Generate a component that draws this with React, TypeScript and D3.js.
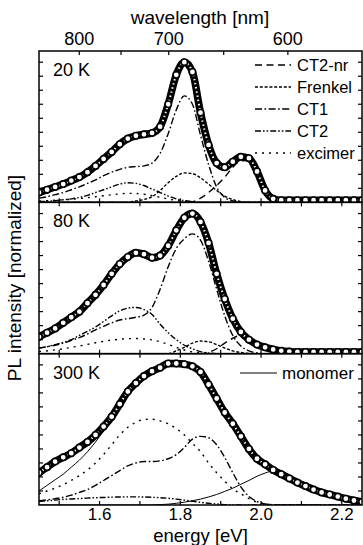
import React from "react";
import * as d3 from "d3";

const W = 363;
const H = 545;

// energy grid (eV) shared by all curves
const energy = d3.range(41).map((i) => 1.45 + i * 0.02);

// 20 K
const pl20K = [0.07, 0.09, 0.11, 0.13, 0.155, 0.18, 0.215, 0.26, 0.31, 0.36, 0.415, 0.455, 0.475, 0.485, 0.495, 0.54, 0.7, 0.91, 1.0, 0.93, 0.64, 0.41, 0.28, 0.25, 0.29, 0.325, 0.315, 0.22, 0.085, 0.025, 0.015, 0.015, 0.015, 0.015, 0.015, 0.015, 0.015, 0.015, 0.015, 0.015, 0.015];
const ct2nr20K = [0, 0, 0, 0, 0, 0, 0, 0, 0, 0, 0, 0, 0, 0, 0, 0, 0, 0, 0, 0.005, 0.03, 0.07, 0.12, 0.18, 0.25, 0.295, 0.3, 0.21, 0.08, 0.015, 0, 0, 0, 0, 0, 0, 0, 0, 0, 0, 0];
const frenkel20K = [0, 0, 0, 0, 0, 0, 0, 0, 0, 0, 0, 0, 0.01, 0.02, 0.04, 0.085, 0.14, 0.185, 0.21, 0.205, 0.175, 0.13, 0.085, 0.045, 0.02, 0.005, 0, 0, 0, 0, 0, 0, 0, 0, 0, 0, 0, 0, 0, 0, 0];
const ct1_20K = [0.03, 0.04, 0.055, 0.07, 0.09, 0.11, 0.135, 0.16, 0.19, 0.215, 0.235, 0.25, 0.255, 0.26, 0.28, 0.35, 0.49, 0.66, 0.76, 0.7, 0.48, 0.27, 0.11, 0.035, 0.01, 0, 0, 0, 0, 0, 0, 0, 0, 0, 0, 0, 0, 0, 0, 0, 0];
const ct2_20K = [0.005, 0.008, 0.012, 0.018, 0.025, 0.035, 0.05, 0.07, 0.09, 0.11, 0.13, 0.14, 0.135, 0.12, 0.095, 0.07, 0.045, 0.025, 0.012, 0.005, 0, 0, 0, 0, 0, 0, 0, 0, 0, 0, 0, 0, 0, 0, 0, 0, 0, 0, 0, 0, 0];
const excimer20K = [0.01, 0.012, 0.015, 0.018, 0.022, 0.027, 0.033, 0.04, 0.047, 0.054, 0.06, 0.064, 0.063, 0.058, 0.048, 0.036, 0.024, 0.014, 0.007, 0.003, 0, 0, 0, 0, 0, 0, 0, 0, 0, 0, 0, 0, 0, 0, 0, 0, 0, 0, 0, 0, 0];

// 80 K
const pl80K = [0.12, 0.15, 0.18, 0.22, 0.26, 0.3, 0.36, 0.42, 0.49, 0.57, 0.64, 0.69, 0.72, 0.71, 0.685, 0.7, 0.77, 0.88, 0.97, 1.0, 0.94, 0.79, 0.57, 0.39, 0.25, 0.155, 0.1, 0.065, 0.045, 0.03, 0.02, 0.015, 0.012, 0.012, 0.012, 0.012, 0.012, 0.012, 0.012, 0.012, 0.012];
const ct2nr80K = [0, 0, 0, 0, 0, 0, 0, 0, 0, 0, 0, 0, 0, 0, 0, 0, 0, 0, 0, 0, 0, 0.01, 0.035, 0.075, 0.11, 0.13, 0.115, 0.08, 0.05, 0.028, 0.014, 0.006, 0.002, 0, 0, 0, 0, 0, 0, 0, 0];
const frenkel80K = [0, 0, 0, 0, 0, 0, 0, 0, 0, 0, 0, 0, 0, 0, 0, 0, 0, 0.02, 0.045, 0.075, 0.09, 0.085, 0.065, 0.04, 0.02, 0.008, 0.002, 0, 0, 0, 0, 0, 0, 0, 0, 0, 0, 0, 0, 0, 0];
const ct1_80K = [0.04, 0.05, 0.06, 0.075, 0.095, 0.115, 0.14, 0.17, 0.195, 0.22, 0.24, 0.25, 0.26, 0.275, 0.33, 0.46, 0.62, 0.75, 0.82, 0.855, 0.81, 0.66, 0.46, 0.27, 0.13, 0.055, 0.02, 0.005, 0, 0, 0, 0, 0, 0, 0, 0, 0, 0, 0, 0, 0];
const ct2_80K = [0.04, 0.05, 0.065, 0.08, 0.1, 0.13, 0.16, 0.19, 0.23, 0.27, 0.305, 0.325, 0.33, 0.315, 0.28, 0.21, 0.15, 0.1, 0.06, 0.035, 0.015, 0.005, 0, 0, 0, 0, 0, 0, 0, 0, 0, 0, 0, 0, 0, 0, 0, 0, 0, 0, 0];
const excimer80K = [0.015, 0.02, 0.027, 0.035, 0.045, 0.055, 0.066, 0.078, 0.088, 0.097, 0.103, 0.107, 0.108, 0.105, 0.098, 0.085, 0.066, 0.045, 0.026, 0.012, 0.005, 0, 0, 0, 0, 0, 0, 0, 0, 0, 0, 0, 0, 0, 0, 0, 0, 0, 0, 0, 0];

// 300 K
const pl300K = [0.23, 0.27, 0.31, 0.34, 0.37, 0.41, 0.45, 0.5, 0.56, 0.63, 0.72, 0.81, 0.87, 0.92, 0.955, 0.98, 1.01, 1.01, 1.005, 0.99, 0.95, 0.86, 0.76, 0.66, 0.58, 0.49, 0.4, 0.33, 0.29, 0.25, 0.22, 0.19, 0.16, 0.135, 0.11, 0.09, 0.075, 0.06, 0.045, 0.032, 0.022];
const fit300K = [0.1, 0.14, 0.18, 0.22, 0.27, 0.32, 0.38, 0.45, 0.53, 0.62, 0.72, 0.81, 0.88, 0.93, 0.965, 0.99, 1.0, 1.005, 1.0, 0.985, 0.945, 0.865, 0.765, 0.66, 0.575, 0.49, 0.41, 0.345, 0.29, 0.25, 0.235, 0.21, 0.178, 0.145, 0.115, 0.09, 0.068, 0.05, 0.036, 0.025, 0.017];
const ct1_300K = [0.03, 0.037, 0.045, 0.055, 0.07, 0.09, 0.11, 0.14, 0.175, 0.21, 0.245, 0.28, 0.3, 0.31, 0.31, 0.315, 0.33, 0.36, 0.41, 0.47, 0.49, 0.48, 0.43, 0.34, 0.23, 0.13, 0.06, 0.025, 0.008, 0.002, 0, 0, 0, 0, 0, 0, 0, 0, 0, 0, 0];
const ct2_300K = [0.025, 0.03, 0.035, 0.04, 0.043, 0.046, 0.049, 0.052, 0.054, 0.056, 0.057, 0.058, 0.058, 0.057, 0.055, 0.052, 0.048, 0.042, 0.035, 0.027, 0.019, 0.012, 0.007, 0.003, 0, 0, 0, 0, 0, 0, 0, 0, 0, 0, 0, 0, 0, 0, 0, 0, 0];
const excimer300K = [0.08, 0.1, 0.12, 0.145, 0.175, 0.21, 0.25, 0.3, 0.36, 0.43, 0.5, 0.555, 0.59, 0.61, 0.612, 0.6, 0.58, 0.545, 0.5, 0.44, 0.38, 0.3, 0.23, 0.17, 0.115, 0.08, 0.045, 0.02, 0.008, 0.002, 0, 0, 0, 0, 0, 0, 0, 0, 0, 0, 0];
const monomer300K = [0, 0, 0, 0, 0, 0, 0, 0, 0, 0, 0, 0, 0, 0, 0, 0.003, 0.006, 0.012, 0.02, 0.03, 0.042, 0.057, 0.075, 0.097, 0.12, 0.148, 0.175, 0.205, 0.228, 0.243, 0.24, 0.215, 0.18, 0.145, 0.115, 0.09, 0.068, 0.05, 0.036, 0.025, 0.017];

const legendNames = ["CT2-nr", "Frenkel", "CT1", "CT2", "excimer"];
const wavelengthTicks = [800, 750, 700, 650, 600];

const dashes = {
  "CT2-nr": "7,4.5",
  Frenkel: "3,1.8",
  CT1: "7,2.5,1.6,2.5",
  CT2: "6,2,1.6,2,1.6,2",
  excimer: "2,5",
  monomer: null,
  fit: null,
};

const panels = [
  {
    label: "20 K",
    pl: pl20K,
    curves: [["CT2-nr", ct2nr20K], ["Frenkel", frenkel20K], ["CT1", ct1_20K], ["CT2", ct2_20K], ["excimer", excimer20K]],
  },
  {
    label: "80 K",
    pl: pl80K,
    curves: [["CT2-nr", ct2nr80K], ["Frenkel", frenkel80K], ["CT1", ct1_80K], ["CT2", ct2_80K], ["excimer", excimer80K]],
  },
  {
    label: "300 K",
    pl: pl300K,
    curves: [["CT1", ct1_300K], ["CT2", ct2_300K], ["excimer", excimer300K], ["monomer", monomer300K], ["fit", fit300K]],
  },
];

const FONT = "'Liberation Sans', Arial, Helvetica, sans-serif";

export default function App() {
  const left = 39;
  const right = 362;
  const top = 51;
  const bottom = 505;
  const ph = (bottom - top) / 3;

  const x = d3.scaleLinear().domain([1.45, 2.25]).range([left, right]);
  const xTicks = x.ticks(8);
  const xLabels = x.ticks(4);

  return (
    <svg
      width={W}
      height={H}
      style={{ position: "absolute", left: 0, top: 0, background: "#fff" }}
      fontFamily={FONT}
    >
      <defs>
        {panels.map((p, k) => (
          <clipPath id={`clip${k}`} key={k}>
            <rect x={left} y={top + k * ph} width={right - left} height={ph} />
          </clipPath>
        ))}
      </defs>

      {panels.map((p, k) => {
        const y0 = top + k * ph;
        const y = d3.scaleLinear().domain([0, 1.08]).range([y0 + ph, y0]);
        const line = d3
          .line<number>()
          .x((_, i) => x(energy[i]))
          .y((d) => y(d))
          .curve(d3.curveMonotoneX);
        const yTicks = d3.range(1, 11).map((v) => v / 10);
        return (
          <g key={k}>
            <g clipPath={`url(#clip${k})`}>
              {p.curves.map(([name, vals]) => (
                <path
                  key={name as string}
                  d={line(vals as number[]) || ""}
                  fill="none"
                  stroke="#000"
                  strokeWidth={name === "monomer" || name === "fit" ? 1 : 1.4}
                  strokeDasharray={dashes[name as string] || undefined}
                />
              ))}
              {/* measured PL: dense open circles */}
              <path d={line(p.pl) || ""} fill="none" stroke="#000" strokeWidth={7.5} strokeLinecap="round" />
              <path
                d={line(p.pl) || ""}
                fill="none"
                stroke="#fff"
                strokeWidth={2}
                strokeDasharray="1.4,2.8"
              />
              {p.pl.map((v, i) => (
                <circle key={i} cx={x(energy[i])} cy={y(v)} r={3.2} fill="#fff" stroke="#000" strokeWidth={1.6} />
              ))}
            </g>
            {yTicks.map((t) => (
              <g key={t}>
                <line x1={left} x2={left + 4} y1={y(t)} y2={y(t)} stroke="#000" strokeWidth={1.2} />
                <line x1={right - 4} x2={right} y1={y(t)} y2={y(t)} stroke="#000" strokeWidth={1.2} />
              </g>
            ))}
            {xTicks.map((t) => (
              <g key={t}>
                {k > 0 && <line x1={x(t)} x2={x(t)} y1={y0} y2={y0 + 4} stroke="#000" strokeWidth={1.2} />}
                <line x1={x(t)} x2={x(t)} y1={y0 + ph - 4} y2={y0 + ph} stroke="#000" strokeWidth={1.2} />
              </g>
            ))}
            <text x={53} y={y0 + 25} fontSize={18} fill="#000">
              {p.label}
            </text>
            <rect x={left} y={y0} width={right - left} height={ph} fill="none" stroke="#000" strokeWidth={1.5} />
          </g>
        );
      })}

      {/* wavelength axis on top */}
      {wavelengthTicks.map((wl) => {
        const xe = x(1239.84 / wl);
        return (
          <g key={wl}>
            <line x1={xe} x2={xe} y1={top} y2={top + 4} stroke="#000" strokeWidth={1.2} />
            {wl % 100 === 0 && (
              <text x={xe} y={top - 6} fontSize={18} textAnchor="middle" fill="#000">
                {wl}
              </text>
            )}
          </g>
        );
      })}
      <text x={200} y={24} fontSize={19} textAnchor="middle" fill="#000">
        wavelength [nm]
      </text>

      {/* energy axis */}
      {xLabels.map((t) => (
        <text key={t} x={x(t)} y={520} fontSize={17} textAnchor="middle" fill="#000">
          {d3.format(".1f")(t)}
        </text>
      ))}
      <text x={(left + right) / 2} y={542} fontSize={18.5} textAnchor="middle" fill="#000">
        energy [eV]
      </text>
      <text
        transform={`translate(21,${(top + bottom) / 2}) rotate(-90)`}
        fontSize={19}
        textAnchor="middle"
        fill="#000"
      >
        PL intensity [normalized]
      </text>

      {/* legend, top panel */}
      {legendNames.map((name, i) => {
        const ly = 65 + i * 22;
        return (
          <g key={name}>
            <line x1={255} x2={291} y1={ly} y2={ly} stroke="#000" strokeWidth={1.4} strokeDasharray={dashes[name]} />
            <text x={297} y={ly + 6} fontSize={16.5} fill="#000">
              {name}
            </text>
          </g>
        );
      })}
      {/* monomer legend, bottom panel */}
      <line x1={240} x2={277} y1={373} y2={373} stroke="#000" strokeWidth={1} />
      <text x={282} y={379} fontSize={17} fill="#000">
        monomer
      </text>
    </svg>
  );
}
